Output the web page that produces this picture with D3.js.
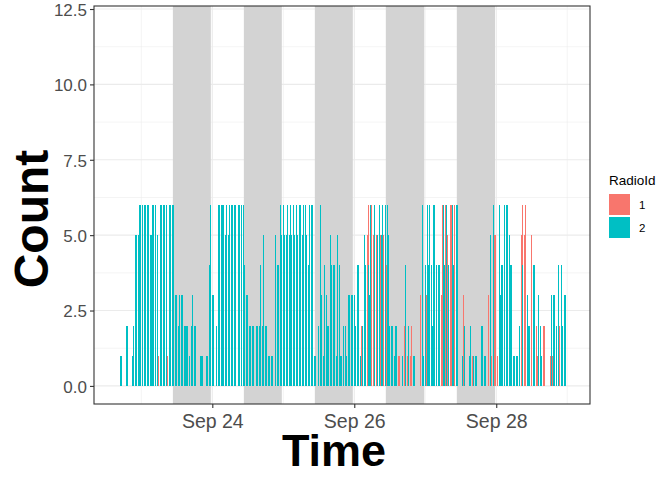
<!DOCTYPE html>
<html>
<head>
<meta charset="utf-8">
<script src="https://cdn.jsdelivr.net/npm/d3@7"></script>
<style>
  body { margin: 0; background: #fff; }
  text { font-family: Arial, "Liberation Sans", sans-serif; }
</style>
</head>
<body>
<svg id="chart" width="672" height="480"></svg>
<script>
// hours are counted from Sep 24 00:00, one bar per half hour bin
var baseDay = "2021-09-24 00:00";

var hours2 = [-31,-29,-27,-26.5,-26,-25,-24.5,-23.5,-23,-22,-21,-20,-19,-18.5,-17.5,-16.5,-15.5,-14.5,-13.5,-13,
  -12.5,-11.5,-11,-10.5,-9.5,-9,-8.5,-7.5,-7,-6.5,-6,-4,-3.5,-2,-1,-0.5,0,1.5,2,3,4,4.5,5,5.5,6,6.5,7,7.5,9,10,10.5,
  11,11.5,12,12.5,13.5,15,15.5,16,16.5,17,17.5,18,19,20,21.5,22,23,23.5,24,24.5,25,25.5,26,26.5,27,27.5,28,28.5,29,
  29.5,30,30.5,31,31.5,32,32.5,33,33.5,34,34.5,36,36.5,37,37.5,38,38.5,39,39.5,40,40.5,41,41.5,42,42.5,43,43.5,44.5,
  45,45.5,46,46.5,47,47.5,48,48.5,49,50,51,51.5,52,52.5,53,53.5,55,56,56.5,57,57.5,58.5,59,59.5,60,60.5,61.5,62,
  64.5,65,65.5,66,66.5,68,71,71.5,72,72.5,73,73.5,74,74.5,75,76,76.5,78,78.5,79,80,81,81.5,82.5,84.5,85,87,87.5,88,
  88.5,89,91,92,94,95,97,97.5,98,99,99.5,100.5,101,102,103,104,104.5,106.5,107,108.5,110,110.5,111,111.5,114.5,
  115.5,116.5,117,118,118.5,119];
var counts2 = [1,2,1,2,5,5,6,6,6,6,5,6,6,5,6,6,6,6,6,6,
  3,2,3,3,2,2,2,1,2,3,2,1,1,1,4,6,3,2,6,6,6,5,6,5,6,6,6,6,6,6,6,
  4,3,3,2,2,2,2,2,4,2,5,2,1,1,5,4,6,5,6,5,5,6,5,6,5,6,5,6,5,
  6,6,5,6,6,5,4,6,6,6,1,2,6,3,1,4,3,2,2,5,4,4,4,1,5,4,1,2,
  2,1,3,3,3,3,3,2,4,1,2,5,4,4,3,6,6,5,6,5,6,6,6,5,2,2,1,2,
  1,4,3,1,2,1,6,1,4,6,4,6,4,2,6,4,4,6,4,6,4,6,4,6,1,2,1,2,1,
  1,1,2,1,5,6,6,3,4,6,6,5,4,1,1,2,4,3,2,4,3,3,2,1,3,
  3,2,4,4,2,3];

var hours1 = [-18,-15,50.5,52.5,53,54,54.5,55.5,57,58,59,63,65,66,67,67.5,70.5,72.5,77.5,78,79,79.5,80.5,81,82,
  85,88,93.5,94.5,95.5,96.5,104.5,105,105.5,106,108,109.5,110,112,114.5,115,117.5];
var counts1 = [1,1,2,5,6,6,5,5,5,5,4,1,2,1,1,2,3,3,3,6,6,5,6,6,6,
  3,1,3,1,5,1,5,6,5,6,5,2,1,2,1,1,2];

var nightStart = ["2021-09-23 10:40","2021-09-24 10:40","2021-09-25 10:40","2021-09-26 10:40","2021-09-27 10:40"];
var nightEnd   = ["2021-09-23 23:30","2021-09-24 23:30","2021-09-25 23:30","2021-09-26 23:40","2021-09-27 23:35"];

var majorDays = ["2021-09-24 00:00","2021-09-26 00:00","2021-09-28 00:00"];
var minorDays = ["2021-09-23 00:00","2021-09-25 00:00","2021-09-27 00:00","2021-09-29 00:00"];
var yTicks = [0, 2.5, 5, 7.5, 10, 12.5];
var yMinor = [1.25, 3.75, 6.25, 8.75, 11.25];
var radioIds = ["1", "2"];
var colors = ["#F8766D", "#00BFC4"];

var parse = d3.timeParse("%Y-%m-%d %H:%M");
var base = parse(baseDay);
function hourDate(h) { return new Date(base.getTime() + h * 3600000); }

var pL = 94, pR = 590, pT = 6, pB = 404;
var svg = d3.select("#chart");

var x = d3.scaleTime()
    .domain([hourDate(-40), hourDate(127.7)])
    .range([pL, pR]);
var y = d3.scaleLinear()
    .domain([-0.6, 12.6])
    .range([pB, pT]);

// panel background + grid
svg.append("rect").attr("x", pL).attr("y", pT)
  .attr("width", pR - pL).attr("height", pB - pT).attr("fill", "#fff");

var grid = svg.append("g");
grid.selectAll(".ymin").data(yMinor).enter().append("line")
  .attr("x1", pL).attr("x2", pR)
  .attr("y1", function(d) { return y(d); }).attr("y2", function(d) { return y(d); })
  .attr("stroke", "#EBEBEB").attr("stroke-width", 0.55);
grid.selectAll(".xmin").data(minorDays).enter().append("line")
  .attr("y1", pT).attr("y2", pB)
  .attr("x1", function(d) { return x(parse(d)); }).attr("x2", function(d) { return x(parse(d)); })
  .attr("stroke", "#EBEBEB").attr("stroke-width", 0.55);
grid.selectAll(".ymaj").data(yTicks).enter().append("line")
  .attr("x1", pL).attr("x2", pR)
  .attr("y1", function(d) { return y(d); }).attr("y2", function(d) { return y(d); })
  .attr("stroke", "#EBEBEB").attr("stroke-width", 1.1);
grid.selectAll(".xmaj").data(majorDays).enter().append("line")
  .attr("y1", pT).attr("y2", pB)
  .attr("x1", function(d) { return x(parse(d)); }).attr("x2", function(d) { return x(parse(d)); })
  .attr("stroke", "#EBEBEB").attr("stroke-width", 1.1);

// night shading
svg.append("g").selectAll("rect").data(nightStart).enter().append("rect")
  .attr("x", function(d) { return x(parse(d)); })
  .attr("width", function(d, i) { return x(parse(nightEnd[i])) - x(parse(d)); })
  .attr("y", pT).attr("height", pB - pT)
  .attr("fill", "#D3D3D3");

// bars: snapped to whole pixels like the original device did,
// one pixel wide when the next bin is busy, split when both radios share a bin
var bars = [];
hours1.forEach(function(h, i) { bars.push({h: h, v: counts1[i], s: 0}); });
hours2.forEach(function(h, i) { bars.push({h: h, v: counts2[i], s: 1}); });
var perBin = d3.rollup(bars, function(v) { return v.length; }, function(d) { return d.h; });

bars.forEach(function(d) {
  var x0 = Math.round(x(hourDate(d.h)) - 0.67);
  var w = perBin.has(d.h + 0.5) ? 1 : 2;
  if (perBin.get(d.h) > 1) { w = 1; x0 += d.s; }
  d.px = x0; d.pw = w;
});

svg.append("g").attr("shape-rendering", "crispEdges")
  .selectAll("rect").data(bars).enter().append("rect")
  .attr("x", function(d) { return d.px; })
  .attr("width", function(d) { return d.pw; })
  .attr("y", function(d) { return Math.round(y(d.v)); })
  .attr("height", function(d) { return Math.round(y(0)) - Math.round(y(d.v)); })
  .attr("fill", function(d) { return colors[d.s]; });

// border
svg.append("rect").attr("x", pL).attr("y", pT)
  .attr("width", pR - pL).attr("height", pB - pT)
  .attr("fill", "none").attr("stroke", "#333333").attr("stroke-width", 1.1);

// axes
var yAxis = d3.axisLeft(y).tickValues(yTicks).tickFormat(d3.format(".1f")).tickSize(4).tickPadding(3);
var gy = svg.append("g").attr("transform", "translate(" + pL + ",1)").call(yAxis);
gy.selectAll(".tick line").attr("transform", "translate(0,-1)");
var xAxis = d3.axisBottom(x).tickValues(majorDays.map(parse)).tickFormat(d3.timeFormat("%b %d")).tickSize(4).tickPadding(6);
var gx = svg.append("g").attr("transform", "translate(0," + pB + ")").call(xAxis);
[gx, gy].forEach(function(g) {
  g.select(".domain").remove();
  g.selectAll(".tick line").attr("stroke", "#333333").attr("stroke-width", 1.1);
  g.selectAll(".tick text").attr("fill", "#4D4D4D")
    .style("font-family", "Arial, 'Liberation Sans', sans-serif");
});
gy.selectAll(".tick text").style("font-size", "17px");
gx.selectAll(".tick text").style("font-size", "19.5px");

// axis titles
svg.append("text").attr("x", 334).attr("y", 466)
  .attr("text-anchor", "middle").style("font-size", "45px").style("font-weight", "bold")
  .text("Time");
svg.append("text").attr("transform", "translate(48,219) rotate(-90)")
  .attr("text-anchor", "middle").style("font-size", "48px").style("font-weight", "bold")
  .text("Count");

// legend
var lg = svg.append("g");
lg.append("text").attr("x", 609).attr("y", 185).style("font-size", "13.5px").text("RadioId");
lg.selectAll("rect").data(radioIds).enter().append("rect")
  .attr("x", 609).attr("y", function(d, i) { return 194 + i * 23; })
  .attr("width", 21).attr("height", 21)
  .attr("fill", function(d, i) { return colors[i]; });
lg.selectAll(".lab").data(radioIds).enter().append("text")
  .attr("x", 639).attr("y", function(d, i) { return 209 + i * 23; })
  .style("font-size", "11.5px").text(function(d) { return d; });
</script>
</body>
</html>
